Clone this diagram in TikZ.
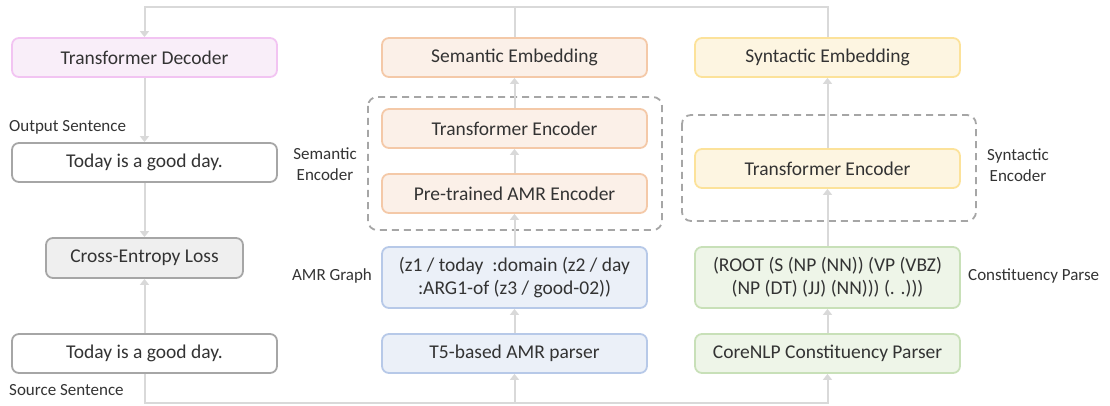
\documentclass[tikz,border=0pt]{standalone}
\usepackage{fontspec}
\setmainfont{Carlito}
\usetikzlibrary{arrows.meta}
\definecolor{linegray}{HTML}{D9D9D9}
\definecolor{txtgray}{HTML}{333333}
\definecolor{dashgray}{HTML}{A6A6A6}
\definecolor{pinkfill}{HTML}{F9EEF9}
\definecolor{pinkdraw}{HTML}{F2C4F2}
\definecolor{orangefill}{HTML}{FBF0E8}
\definecolor{orangedraw}{HTML}{F4C9A8}
\definecolor{bluefill}{HTML}{EBF0F8}
\definecolor{bluedraw}{HTML}{B7C9E8}
\definecolor{yellowfill}{HTML}{FDF5E1}
\definecolor{yellowdraw}{HTML}{FCE29A}
\definecolor{greenfill}{HTML}{EEF5E8}
\definecolor{greendraw}{HTML}{C8E0B8}
\definecolor{grayfill}{HTML}{EFEFEF}
\definecolor{graydraw}{HTML}{A6A6A6}
\tikzset{
  block/.style={rounded corners=7pt, line width=1.8pt, minimum width=265pt,
    minimum height=39pt, align=center, inner sep=0pt, text=txtgray,
    font=\fontsize{19.5}{23}\selectfont},
  pinkbox/.style={block, draw=pinkdraw, fill=pinkfill},
  orangebox/.style={block, draw=orangedraw, fill=orangefill},
  bluebox/.style={block, draw=bluedraw, fill=bluefill},
  yellowbox/.style={block, draw=yellowdraw, fill=yellowfill},
  greenbox/.style={block, draw=greendraw, fill=greenfill},
  graybox/.style={block, draw=graydraw, fill=grayfill},
  whitebox/.style={block, draw=graydraw, fill=white},
  lbl/.style={text=txtgray, inner sep=0pt, align=center,
    font=\fontsize{17}{21}\selectfont},
  link/.style={draw=linegray, line width=2pt},
  arr/.style={link, -{Triangle[width=9pt,length=6pt]}},
  encbox/.style={draw=dashgray, line width=1.8pt, dash pattern=on 7pt off 5pt,
    rounded corners=9pt}
}
\begin{document}
\begin{tikzpicture}[x=1pt,y=-1pt]
\useasboundingbox (0,0) rectangle (1110,406);
% left column
\node[pinkbox] (dec) at (144.5,57.5) {Transformer Decoder};
\node[whitebox] (out) at (144.5,162.5) {Today is a good day.};
\node[graybox, minimum width=197pt, minimum height=40pt] (loss) at (144.5,258) {Cross-Entropy Loss};
\node[whitebox] (src) at (144.5,353.5) {Today is a good day.};
\node[lbl, anchor=west] (outlbl) at (9,127) {Output Sentence};
\node[lbl, anchor=west] (srclbl) at (9,390) {Source Sentence};
% semantic column
\draw[encbox] (368,97) rectangle (662,230);
\node[orangebox] (semb) at (514.5,57.5) {Semantic Embedding};
\node[orangebox] (semtenc) at (514.5,128.5) {Transformer Encoder};
\node[orangebox] (amrenc) at (514.5,193.5) {Pre-trained AMR Encoder};
\node[bluebox, minimum height=61pt] (amr) at (514.5,277.5) {(z1 / today~~:domain (z2 / day\\:ARG1-of (z3 / good-02))};
\node[bluebox] (t5) at (514.5,353.5) {T5-based AMR parser};
\node[lbl] (semlbl) at (325,164) {Semantic\\Encoder};
\node[lbl] (amrlbl) at (332,276) {AMR Graph};
% syntactic column
\draw[encbox] (682,115) rectangle (976,221);
\node[yellowbox] (synemb) at (827.5,57.5) {Syntactic Embedding};
\node[yellowbox] (syntenc) at (827.5,168.5) {Transformer Encoder};
\node[greenbox, minimum height=61pt] (cons) at (827.5,277.5) {(ROOT (S (NP (NN)) (VP (VBZ)\\(NP (DT) (JJ) (NN))) (. .)))};
\node[greenbox] (core) at (827.5,353.5) {CoreNLP Constituency Parser};
\node[lbl] (synlbl) at (1018,165) {Syntactic\\Encoder};
\node[lbl, anchor=west] (conslbl) at (968,276) {Constituency Parse};
% connectors
\coordinate (top) at (514.5,7);
\coordinate (bot) at (514.5,403);
\draw[arr] (synemb.north) |- (top) -| (dec.north);
\draw[link] (semb.north) -- (top);
\draw[arr] (dec) -- (out);
\draw[arr] (out) -- (loss);
\draw[arr] (src) -- (loss);
\draw[link] (src.south) |- (bot);
\draw[arr] (bot) -- (t5);
\draw[arr] (bot) -| (core.south);
\draw[arr] (t5) -- (amr);
\draw[arr] (amr) -- (amrenc);
\draw[arr] (amrenc) -- (semtenc);
\draw[arr] (semtenc) -- (semb);
\draw[arr] (core) -- (cons);
\draw[arr] (cons) -- (syntenc);
\draw[arr] (syntenc) -- (synemb);
\end{tikzpicture}
\end{document}
